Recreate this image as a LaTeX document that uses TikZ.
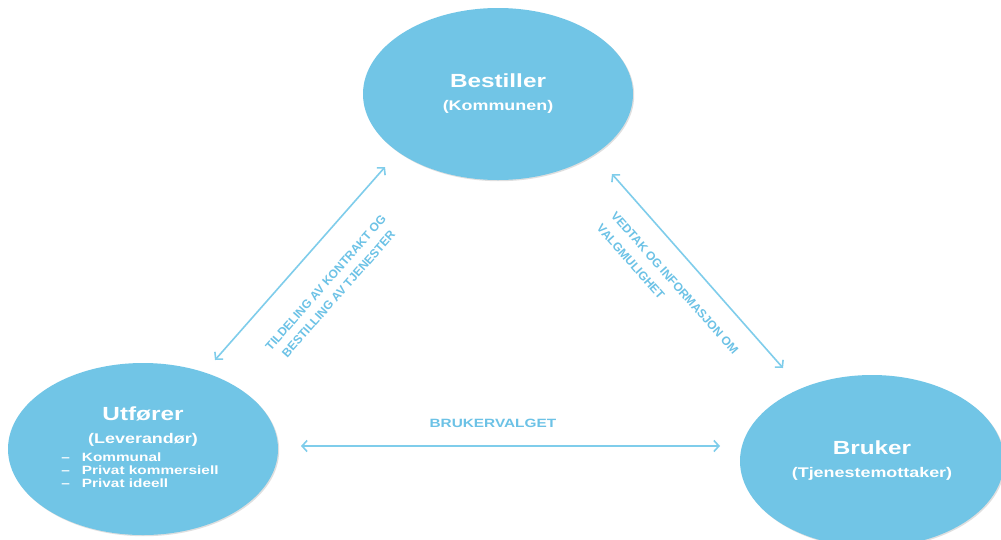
\documentclass[tikz,border=0pt]{standalone}
\usepackage{fontspec}
\setmainfont{Liberation Sans}[FakeStretch=1.28]
\newfontfamily\diagfont{Liberation Sans}
\usetikzlibrary{arrows.meta,positioning,shapes.geometric,shadows}

\definecolor{bubble}{HTML}{71C5E6}
\definecolor{linkblue}{HTML}{7FCDEB}
\definecolor{linktext}{HTML}{6CC2E6}

\tikzset{
  actor/.style={ellipse, fill=bubble, text=white, align=center, inner sep=0pt,
    minimum width=270pt, minimum height=172pt,
    font=\bfseries\fontsize{14}{17}\selectfont,
    drop shadow={shadow xshift=1.2pt, shadow yshift=-1.2pt, opacity=.25}},
  link/.style={linkblue, line width=1.6pt,
    {Straight Barb[length=5pt,width=11pt]}-{Straight Barb[length=5pt,width=11pt]}},
  linklabel/.style={text=linktext, inner sep=0pt, font=\bfseries\fontsize{12}{16}\selectfont},
  tilted/.style={linklabel, sloped, font=\diagfont\bfseries\fontsize{12}{17}\selectfont}
}
\newcommand{\titel}[1]{{\fontsize{19}{22}\selectfont #1}}

\begin{document}
\begin{tikzpicture}[x=1pt,y=-1pt]
  \path[use as bounding box, fill=white] (0,0) rectangle (1001,539);

  \node[actor] (bestiller) at (498,94) {\titel{Bestiller}\\[6pt](Kommunen)};
  \node[actor] (utforer) at (143,449) {\titel{Utfører}\\[6pt](Leverandør)\\[1pt]
    {\fontsize{12}{12.8}\selectfont\hspace*{-6pt}\begin{tabular}[t]{@{}l@{\hspace{12pt}}l@{}}
      --&Kommunal\\ --&Privat kommersiell\\ --&Privat ideell
    \end{tabular}}};
  \node[actor, minimum width=264pt] (bruker) at (872,461) {\titel{Bruker}\\[6pt](Tjenestemottaker)};

  \coordinate (tildelingA) at (215,360);
  \coordinate (tildelingB) at (385,167);
  \coordinate (vedtakA) at (612,174);
  \coordinate (vedtakB) at (783,368);
  \coordinate (valgA) at (301,446);
  \coordinate (valgB) at (720,446);

  \draw[link] (tildelingA) -- node[tilted, align=center, pos=.51, below=27pt]
    {TILDELING AV KONTRAKT OG\\BESTILLING AV TJENESTER} (tildelingB);
  \draw[link] (vedtakA) -- node[tilted, align=left, pos=.477, below=20pt,
    font=\diagfont\bfseries\fontsize{12}{19}\selectfont]
    {VEDTAK OG INFORMASJON OM\\VALGMULIGHET} (vedtakB);
  \draw[link] (valgA) -- node[linklabel, pos=.458, above=18pt] {BRUKERVALGET} (valgB);
\end{tikzpicture}
\end{document}
